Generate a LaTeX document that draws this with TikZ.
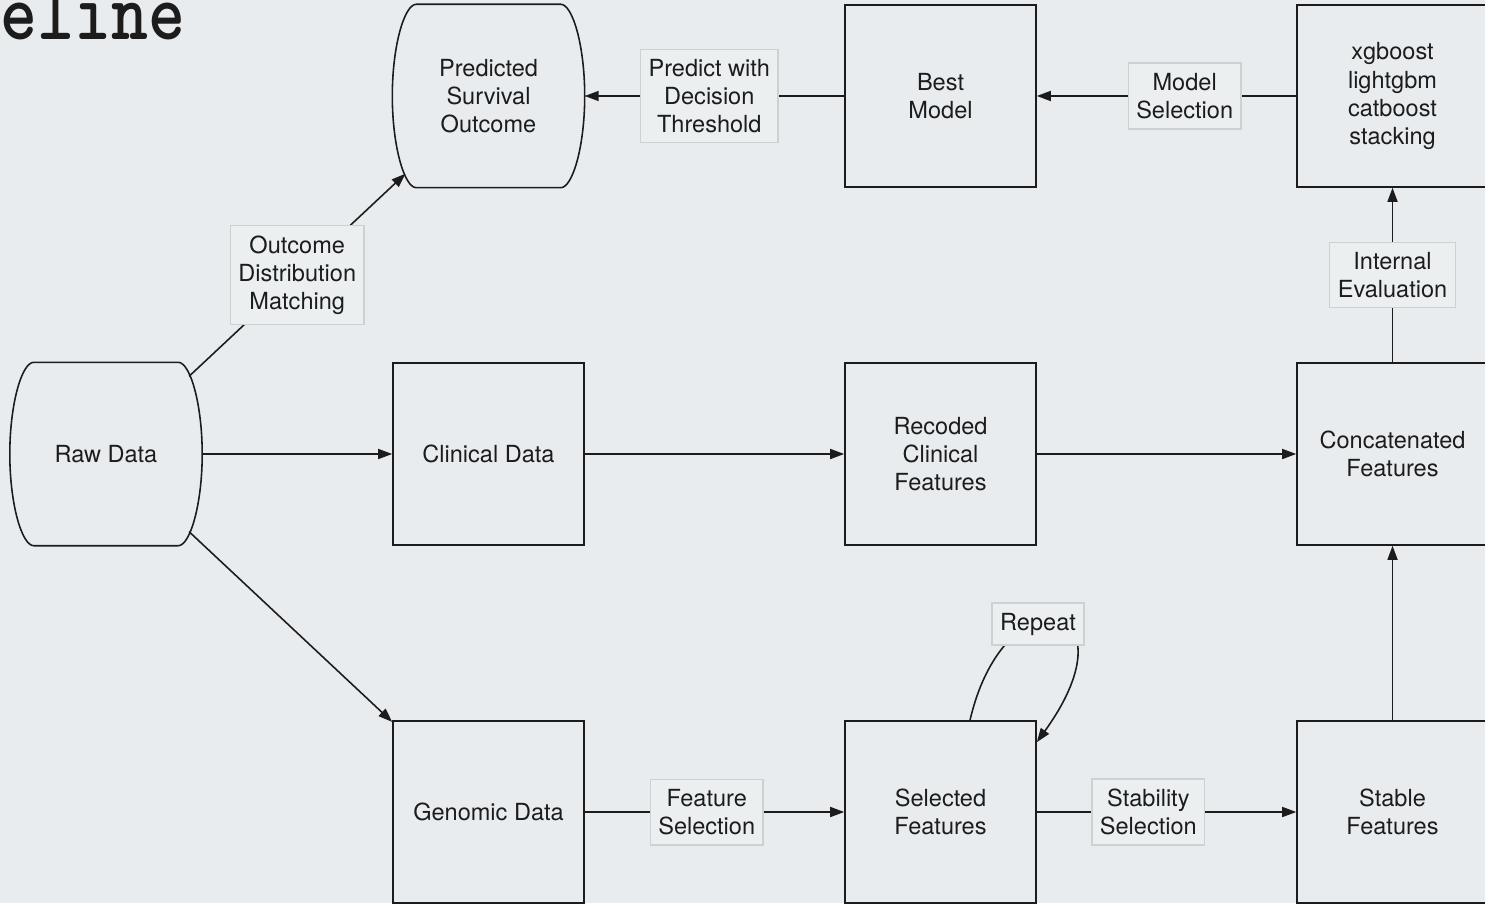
\documentclass[tikz,border=0pt]{standalone}
\usepackage{fontspec}
\setmainfont{TeX Gyre Heros}
\usetikzlibrary{arrows.meta}
\definecolor{canvas}{HTML}{E9ECEE}
\definecolor{ink}{HTML}{1C1C1C}
\definecolor{tagfill}{HTML}{ECEFF0}
\definecolor{tagline}{HTML}{CDD1D3}
% drum outline round an (undrawn) store node
\newcommand{\drumedge}[1]{%
  \draw[ink,line width=0.45pt] ([xshift=0.24cm]#1.north west) -- ([xshift=-0.24cm]#1.north east)
    .. controls +(0.12,0) and +(0,0.5) .. (#1.east)
    .. controls +(0,-0.5) and +(0.12,0) .. ([xshift=-0.24cm]#1.south east)
    -- ([xshift=0.24cm]#1.south west)
    .. controls +(-0.12,0) and +(0,-0.5) .. (#1.west)
    .. controls +(0,0.5) and +(-0.12,0) .. ([xshift=0.24cm]#1.north west) -- cycle;}
\tikzset{>={Triangle[length=1.4mm,width=1mm]},
  flow/.style={draw=ink,line width=0.45pt,->},
  stage/.style={draw=ink,line width=0.45pt,minimum width=1.91cm,minimum height=1.82cm,align=center,inner sep=0pt},
  store/.style={minimum width=1.91cm,minimum height=1.82cm,align=center,inner sep=0pt},
  tag/.style={fill=tagfill,draw=tagline,line width=0.4pt,align=center,inner xsep=0.08cm,inner ysep=0.1cm}}

\begin{document}
\begin{tikzpicture}[font=\fontsize{6.7}{7.97}\selectfont,text=ink]
  \fill[canvas] (0,0) rectangle (14.85,9.03);
  \useasboundingbox (0,0) rectangle (14.85,9.03);
  \node[font=\ttfamily\bfseries\fontsize{20}{22}\selectfont,anchor=base east,inner sep=0pt,yscale=1.17,transform shape] (title) at (1.86,8.63) {peline};
  % stores
  \node[store] (raw) at (1.06,4.49) {Raw Data};
  \node[store] (pso) at (4.885,8.07) {Predicted\\Survival\\Outcome};
  \drumedge{raw}
  \drumedge{pso}
  % stages
  \node[stage] (clin) at (4.885,4.49) {Clinical Data};
  \node[stage] (rec) at (9.405,4.49) {Recoded\\Clinical\\Features};
  \node[stage] (cat) at (13.925,4.49) {Concatenated\\Features};
  \node[stage] (best) at (9.405,8.07) {Best\\Model};
  \node[stage] (xgb) at (13.925,8.07) {xgboost\\lightgbm\\catboost\\stacking};
  \node[stage] (gen) at (4.885,0.91) {Genomic Data};
  \node[stage] (sel) at (9.405,0.91) {Selected\\Features};
  \node[stage] (stab) at (13.925,0.91) {Stable\\Features};
  % flows
  \draw[flow] (raw) -- (clin);
  \draw[flow,shorten <=-0.18cm,shorten >=-0.18cm] (raw) -- node[tag] {Outcome\\Distribution\\Matching} (pso);
  \draw[flow,shorten <=-0.18cm] (raw) -- (gen);
  \draw[flow] (clin) -- (rec);
  \draw[flow] (rec) -- (cat);
  \draw[flow] (gen) -- node[tag,pos=0.47] {Feature\\Selection} (sel);
  \draw[flow] (sel) -- node[tag,pos=0.43] {Stability\\Selection} (stab);
  \draw[flow] (stab) -- (cat);
  \draw[flow] (cat) -- node[tag] {Internal\\Evaluation} (xgb);
  \draw[flow] (xgb) -- node[tag,pos=0.43] {Model\\Selection} (best);
  \draw[flow] (best) -- node[tag,pos=0.52] {Predict with\\Decision\\Threshold} (pso);
  \draw[flow] ([xshift=0.295cm]sel.north) .. controls +(0.35,1.51) and +(1.03,1.43) .. ([yshift=-0.22cm]sel.north east);
  \node[tag] (rep) at (10.38,2.79) {Repeat};
\end{tikzpicture}
\end{document}
